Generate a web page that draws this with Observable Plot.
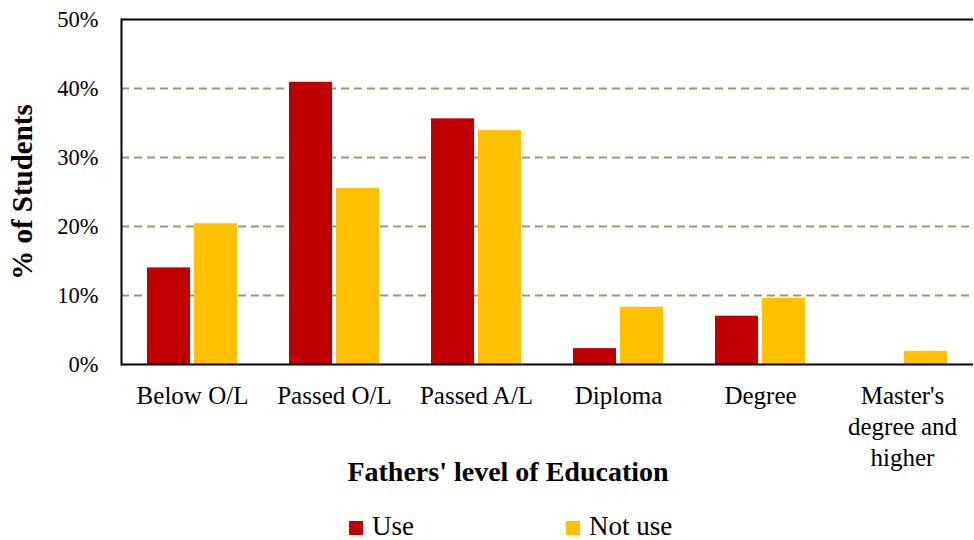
<!DOCTYPE html>
<html>
<head>
<meta charset="utf-8">
<script src="https://cdn.jsdelivr.net/npm/d3@7"></script>
<script src="https://cdn.jsdelivr.net/npm/@observablehq/plot@0.6"></script>
<style>
  body { margin: 0; background: #fff; }
  #wrap { position: relative; width: 974px; height: 540px; font-family: "Liberation Serif", Tinos, "Times New Roman", serif; color: #000; }
  #title { position: absolute; left: 508px; top: 458px; transform: translateX(-50%); font-weight: bold; font-size: 28px; line-height: 28px; white-space: nowrap; }
  .sw { position: absolute; width: 14px; height: 14px; top: 521px; }
  .lt { position: absolute; top: 513px; font-size: 27px; line-height: 27px; white-space: nowrap; }
  g[aria-label="y-axis label"] text { font-weight: bold; font-size: 29px; }
</style>
</head>
<body>
<div id="wrap">
  <div id="chart"></div>
  <div id="title"></div>
  <div id="legend"></div>
</div>
<script>
const categories = ["Below O/L", "Passed O/L", "Passed A/L", "Diploma", "Degree", "Master's degree and higher"];
const categoryLabels = ["Below O/L", "Passed O/L", "Passed A/L", "Diploma", "Degree", "Master's\ndegree and\nhigher"];
const series = ["Use", "Not use"];
const useValues = [14.0, 40.9, 35.6, 2.3, 7.0, 0];
const notUseValues = [20.4, 25.5, 33.9, 8.3, 9.6, 1.9];
const yTicks = [0, 10, 20, 30, 40, 50];
const gridTicks = [10, 20, 30, 40];
const colors = ["#C00000", "#FFC000"];
const yLabel = "% of Students";
const xLabel = "Fathers' level of Education";

const data = categories.flatMap((c, i) => [
  {category: c, series: series[0], value: useValues[i]},
  {category: c, series: series[1], value: notUseValues[i]}
]);

const chart = Plot.plot({
  width: 974,
  height: 500,
  marginTop: 19,
  marginBottom: 136,
  marginLeft: 120,
  marginRight: 0,
  style: {fontFamily: "'Liberation Serif', Tinos, 'Times New Roman', serif", fontSize: "22px", color: "#000", background: "#fff", overflow: "visible"},
  fx: {domain: categories, padding: 0},
  x: {domain: series, paddingInner: 0.095, paddingOuter: 0.545, axis: null},
  y: {domain: [0, 50]},
  color: {domain: series, range: colors},
  marks: [
    Plot.ruleY(gridTicks, {stroke: "#a0976f", strokeWidth: 2, strokeDasharray: "8,5"}),
    Plot.barY(data, {fx: "category", x: "series", y: "value", fill: "series"}),
    Plot.ruleY([0, 50], {stroke: "#000", strokeWidth: 2}),
    Plot.frame({anchor: "left", facetAnchor: "left", stroke: "#000", strokeWidth: 2}),
    Plot.axisY({ticks: yTicks, tickFormat: d => d + "%", tickSize: 0, tickPadding: 23, fontSize: 22.5,
      label: yLabel, labelAnchor: "center", labelOffset: 110, labelArrow: "none"}),
    Plot.axisFx({anchor: "bottom", tickSize: 0, tickPadding: 17, fontSize: 25, lineHeight: 1.24,
      tickFormat: d => categoryLabels[categories.indexOf(d)], label: null})
  ]
});
document.getElementById("chart").appendChild(chart);
document.getElementById("title").textContent = xLabel;

const legend = document.getElementById("legend");
const swatchLeft = [349, 566];
series.forEach((s, i) => {
  const sw = document.createElement("div");
  sw.className = "sw";
  sw.style.left = swatchLeft[i] + "px";
  sw.style.background = colors[i];
  const t = document.createElement("div");
  t.className = "lt";
  t.style.left = (swatchLeft[i] + 23) + "px";
  t.textContent = s;
  legend.appendChild(sw);
  legend.appendChild(t);
});
</script>
</body>
</html>
